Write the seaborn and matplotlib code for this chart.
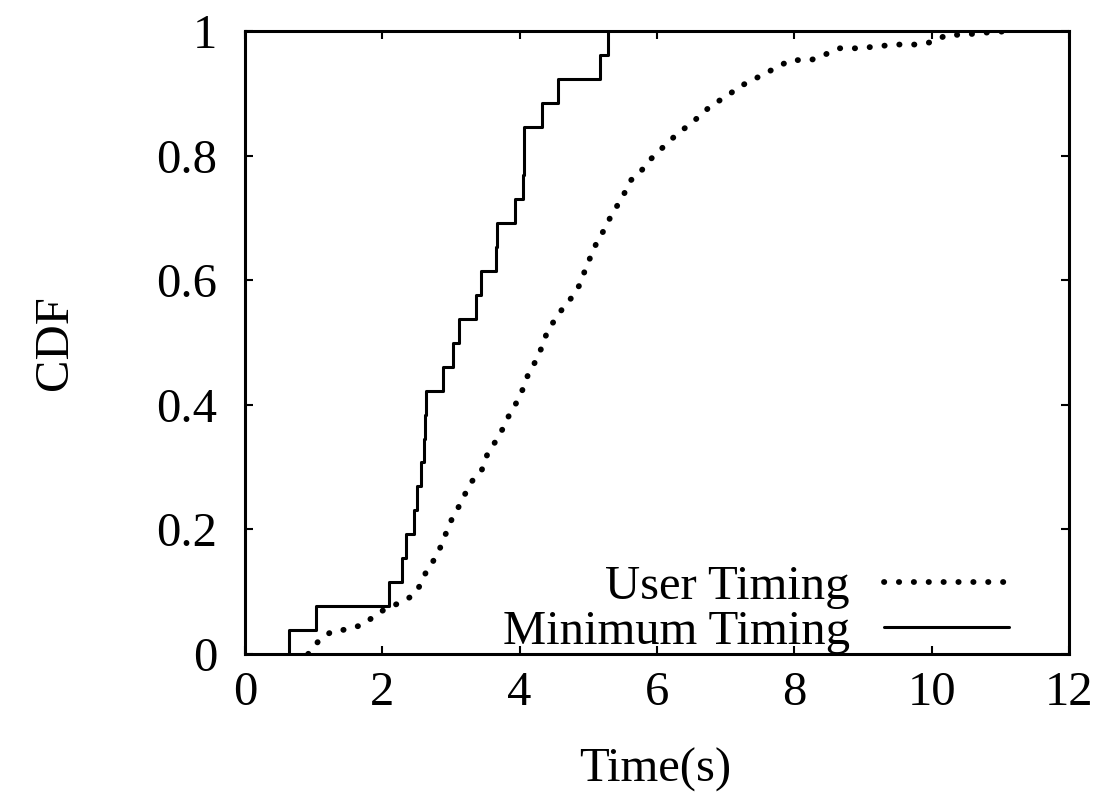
import matplotlib
matplotlib.use("Agg")
import matplotlib.pyplot as plt
import seaborn as sns
import pandas as pd

# ---- data ----
min_timing = [0.645, 1.03, 2.10, 2.28, 2.35, 2.46, 2.50, 2.57, 2.61, 2.62,
              2.63, 2.89, 3.03, 3.12, 3.37, 3.44, 3.66, 3.67, 3.93, 4.05,
              4.06, 4.07, 4.32, 4.56, 5.17, 5.28]

user_x = [0.92, 1.08, 1.26, 1.51, 1.74, 1.90, 2.09, 2.30, 2.47, 2.58, 2.63,
          2.74, 2.84, 2.92, 3.01, 3.12, 3.21, 3.31, 3.45, 3.53, 3.64, 3.75,
          3.84, 3.94, 4.04, 4.12, 4.22, 4.32, 4.39, 4.50, 4.62, 4.76, 4.88,
          4.96, 5.04, 5.13, 5.24, 5.34, 5.42, 5.52, 5.62, 5.77, 5.90, 6.05,
          6.20, 6.36, 6.52, 6.66, 6.83, 7.02, 7.18, 7.37, 7.57, 7.75, 7.95,
          8.24, 8.45, 8.65, 8.94, 9.20, 9.48, 9.77, 10.01, 10.21, 10.49,
          10.77, 11.05]
user_cdf = [0.0, 0.022, 0.036, 0.040, 0.048, 0.063, 0.075, 0.084, 0.096,
            0.116, 0.130, 0.149, 0.170, 0.192, 0.216, 0.238, 0.258, 0.278,
            0.296, 0.321, 0.340, 0.361, 0.382, 0.401, 0.424, 0.448, 0.468,
            0.492, 0.514, 0.535, 0.554, 0.573, 0.594, 0.619, 0.640, 0.663,
            0.683, 0.706, 0.720, 0.739, 0.761, 0.776, 0.794, 0.810, 0.826,
            0.841, 0.854, 0.869, 0.884, 0.896, 0.910, 0.921, 0.932, 0.943,
            0.954, 0.954, 0.963, 0.973, 0.973, 0.976, 0.979, 0.979, 0.983,
            0.994, 0.995, 0.998, 1.0]

x_ticks = [0, 2, 4, 6, 8, 10, 12]
y_ticks = [0, 0.2, 0.4, 0.6, 0.8, 1]
y_tick_labels = ["0", "0.2", "0.4", "0.6", "0.8", "1"]
series_labels = ["User Timing", "Minimum Timing"]

# ---- style ----
sns.set_theme(style="ticks")
plt.rcParams["font.family"] = ["Liberation Serif", "DejaVu Serif"]
plt.rcParams["axes.linewidth"] = 2.2
for key in ["text.color", "axes.labelcolor", "xtick.color", "ytick.color",
            "axes.edgecolor"]:
    plt.rcParams[key] = "black"
FS = 35

fig = plt.figure(figsize=(11.04, 8.09), dpi=100)
ax = fig.add_axes([0.2219, 0.1916, 0.7464, 0.7695])

user_df = pd.DataFrame({"time": user_x, "cdf": user_cdf})
sns.lineplot(data=user_df, x="time", y="cdf", estimator=None, sort=False,
             color="black", linewidth=4.2,
             linestyle=(0, (0.05, 2.5)), dash_capstyle="round",
             label=series_labels[0], ax=ax)

sns.ecdfplot(x=min_timing, color="black", linewidth=2.2,
             label=series_labels[1], ax=ax)

ax.set_xlim(0, 12)
ax.set_ylim(0, 1)
ax.set_xticks(x_ticks)
ax.set_xticklabels([str(t) for t in x_ticks])
ax.set_yticks(y_ticks)
ax.set_yticklabels(y_tick_labels)

for s in ax.spines.values():
    s.set_visible(True)
    s.set_color("black")
    s.set_linewidth(2.2)

ax.tick_params(axis="both", which="major", direction="in", length=6,
               width=1.5, top=True, right=True, labelsize=FS, colors="black")
ax.tick_params(axis="y", pad=20)
ax.tick_params(axis="x", pad=12)

ax.set_xlabel("Time(s)", fontsize=FS, color="black")
ax.set_ylabel("CDF", fontsize=FS, color="black")
ax.xaxis.set_label_coords(0.4976, -0.186)
ax.xaxis.label.set_va("center")
ax.yaxis.set_label_coords(-0.2306, 0.5)
ax.yaxis.label.set_va("center")

leg = ax.legend(loc="lower right", bbox_to_anchor=(0.927, 0.0),
                frameon=False, markerfirst=False, fontsize=FS,
                handlelength=2.57, handletextpad=0.7, borderpad=0,
                borderaxespad=0, labelspacing=0.02)
for t in leg.get_texts():
    t.set_color("black")

fig.savefig("out.png", dpi=100)
